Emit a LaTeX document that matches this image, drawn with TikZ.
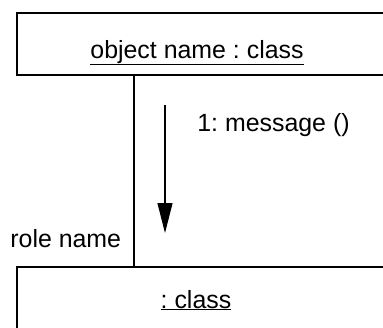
\documentclass[tikz,border=0pt]{standalone}
\usepackage{fontspec}
\setmainfont{Liberation Sans}
\usepackage{tikz}
\usetikzlibrary{arrows.meta}
\newcommand{\umltxt}{\fontsize{24.9}{29}\selectfont\frenchspacing}

\begin{document}
\begin{tikzpicture}[x=1pt, y=-1pt, thick,
	objbox/.style={draw, line width=1.6pt, rectangle, anchor=north west, minimum width=400pt},
	umllabel/.style={inner sep=0pt, font=\umltxt}]
	\useasboundingbox (0,0) rectangle (383,327);
	\clip (0,0) rectangle (383,327);
	% As caixas dos objetos...
		\node[objbox, minimum height=62pt] (obj) at (16,12) {};
		\node[objbox, minimum height=90pt] (role) at (16,266) {};
		\node[umllabel, anchor=base] (objname) at (197,58) {\underline{object name : class}};
		\node[umllabel, anchor=base] (cls) at (196,308) {\underline{: class}};

	% A ligacao e a mensagem
		\coordinate (lk) at (134,0);
		\draw[line width=1.3pt] (obj.south -| lk) -- (role.north -| lk);
		\node[umllabel, anchor=base west] (rolename) at (10,247) {role name};
		\coordinate (msgstart) at (165,105);
		\coordinate (msgend) at (165,233);
		\draw[line width=1.2pt, -{Triangle[length=30pt,width=15pt]}] (msgstart) -- (msgend);
		\node[umllabel, anchor=base west] (msg) at (197,131) {1: message ()};
\end{tikzpicture}
\end{document}
